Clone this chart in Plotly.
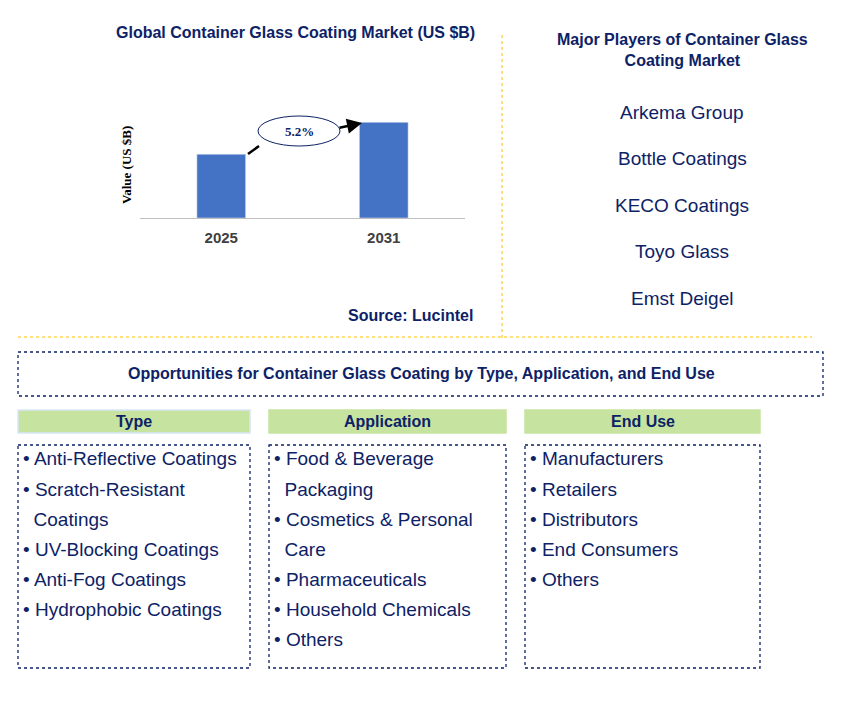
import plotly.graph_objects as go

W, H = 849, 701
NAVY = '#0d2266'

years = ['2025', '2031']
values = [2.0, 3.0]
cagr = '5.2%'
players = ['Arkema Group', 'Bottle Coatings', 'KECO Coatings', 'Toyo Glass', 'Emst Deigel']
type_items = ['• Anti-Reflective Coatings', '• Scratch-Resistant', '  Coatings', '• UV-Blocking Coatings',
              '• Anti-Fog Coatings', '• Hydrophobic Coatings']
app_items = ['• Food & Beverage', '  Packaging', '• Cosmetics & Personal', '  Care',
             '• Pharmaceuticals', '• Household Chemicals', '• Others']
end_items = ['• Manufacturers', '• Retailers', '• Distributors', '• End Consumers', '• Others']


def px(x):
    return x / W


def py(y):
    return 1 - y / H


def label(x, y, text, size, color=NAVY, xanchor='center', **kw):
    return dict(x=px(x), y=py(y), xref='paper', yref='paper', text=text, showarrow=False,
                xanchor=xanchor, yanchor='middle', font=dict(size=size, color=color, **kw.pop('font', {})), **kw)


fig = go.Figure()
fig.add_trace(go.Bar(x=years, y=values, marker_color='#4472c4', width=0.3))

shapes = []
ann = []

# dividers
shapes.append(dict(type='line', xref='paper', yref='paper', x0=px(502), x1=px(502), y0=py(35), y1=py(340),
                   line=dict(color='#ffc000', width=1, dash='dot')))
shapes.append(dict(type='line', xref='paper', yref='paper', x0=px(18), x1=px(812), y0=py(337), y1=py(337),
                   line=dict(color='#ffc000', width=1, dash='dot')))

# CAGR arrow (two pieces around the ellipse)
shapes.append(dict(type='line', xref='paper', yref='paper', x0=px(248), y0=py(154), x1=px(259), y1=py(146),
                   line=dict(color='black', width=2.5)))
ann.append(dict(x=px(362), y=py(123), ax=338 - 362, ay=128 - 123, xref='paper', yref='paper', axref='pixel',
                ayref='pixel', showarrow=True, arrowhead=2, arrowsize=1.2, arrowwidth=2.5, arrowcolor='black', text=''))
shapes.append(dict(type='circle', xref='paper', yref='paper', x0=px(258), x1=px(340), y0=py(146), y1=py(116),
                   line=dict(color=NAVY, width=1), fillcolor='white', layer='above'))
ann.append(label(299, 131, '<b>' + cagr + '</b>', 13, font=dict(family='Liberation Serif')))

ann.append(label(295, 33, '<b>Global Container Glass Coating Market (US $B)</b>', 16))
ann.append(label(127, 165, '<b>Value (US $B)</b>', 13, color='black', textangle=-90,
                 font=dict(family='Liberation Serif')))
ann.append(label(410, 316, '<b>Source: Lucintel</b>', 16))
ann.append(label(682, 50, '<b>Major Players of Container Glass<br>Coating Market</b>', 16))
for i, p in enumerate(players):
    ann.append(label(682, 112 + i * 46.5, p, 19))

# opportunities box
shapes.append(dict(type='rect', xref='paper', yref='paper', x0=px(18), x1=px(823), y0=py(352), y1=py(396),
                   line=dict(color=NAVY, width=1.3, dash='dot')))
ann.append(label(421, 374, '<b>Opportunities for Container Glass Coating by Type, Application, and End Use</b>', 16))

cols = [('Type', 18, 250, type_items), ('Application', 269, 506, app_items), ('End Use', 525, 760, end_items)]
for title, x0, x1, items in cols:
    shapes.append(dict(type='rect', xref='paper', yref='paper', x0=px(x0), x1=px(x1), y0=py(410), y1=py(433),
                       fillcolor='#c6e3a0', line=dict(color='#d6e6f5' if title == 'Type' else '#c6e3a0', width=1.5)))
    ann.append(label((x0 + x1) / 2, 421.5, '<b>' + title + '</b>', 16))
    shapes.append(dict(type='rect', xref='paper', yref='paper', x0=px(x0), x1=px(x1), y0=py(445), y1=py(668),
                       line=dict(color=NAVY, width=1.3, dash='dot')))
    for i, it in enumerate(items):
        ann.append(label(x0 + 3, 459 + i * 30, it, 19, xanchor='left'))

fig.update_layout(
    width=W, height=H, margin=dict(l=0, r=0, t=0, b=0),
    paper_bgcolor='white', plot_bgcolor='white', showlegend=False,
    font=dict(family='Liberation Sans'),
    xaxis=dict(domain=[px(140), px(465)], showline=True, linecolor='#bfbfbf', ticks='', ticklabelstandoff=6,
               tickfont=dict(size=15, color='#404040', family='Liberation Sans'), tickprefix='<b>', ticksuffix='</b>'),
    yaxis=dict(domain=[py(218), py(100)], range=[0, 3.7], showticklabels=False, showgrid=False, zeroline=False),
    shapes=shapes, annotations=ann,
)
fig.write_html('out.html', config={'displayModeBar': False}, post_script="document.body.style.margin='0';")
